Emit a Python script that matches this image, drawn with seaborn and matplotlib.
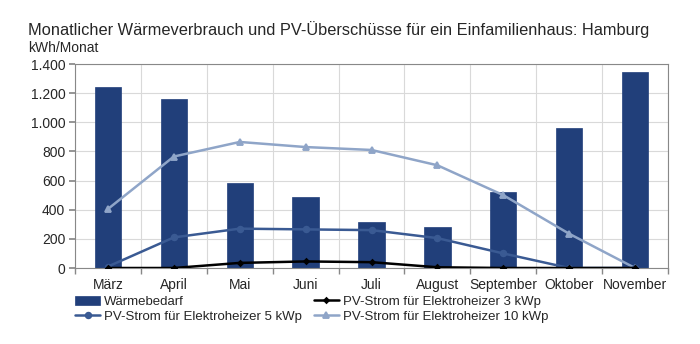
import matplotlib
matplotlib.use("Agg")
import matplotlib.pyplot as plt
import seaborn as sns
import numpy as np
from matplotlib.ticker import FixedLocator, FuncFormatter

months = ["März", "April", "Mai", "Juni", "Juli", "August", "September", "Oktober", "November"]
waerme = [1240, 1160, 580, 485, 315, 280, 520, 960, 1345]
pv3 = [0, 0, 35, 45, 40, 5, 0, 0, 0]
pv5 = [10, 210, 270, 265, 260, 205, 100, 0, 0]
pv10 = [405, 765, 865, 830, 810, 705, 500, 235, 0]
yticks = [0, 200, 400, 600, 800, 1000, 1200, 1400]

sns.set_theme(style="white")
plt.rcParams['font.family'] = ['Liberation Sans', 'DejaVu Sans']

fig = plt.figure(figsize=(7, 3.44), dpi=100)
ax = fig.add_axes([75/700, 1-268/344, (668-75)/700, (268-64)/344])

bar_c = "#213F7A"
c5 = "#3A5A93"
c10 = "#8FA5C8"

sns.barplot(x=months, y=waerme, color=bar_c, width=0.4, ax=ax, saturation=1,
            edgecolor=bar_c, linewidth=0.5, label="Wärmebedarf", zorder=2)
sns.pointplot(x=months, y=pv10, color=c10, marker="^", markersize=4, linewidth=1.8,
              ax=ax, label="PV-Strom für Elektroheizer 10 kWp", zorder=3)
sns.pointplot(x=months, y=pv5, color=c5, marker="o", markersize=4, linewidth=1.8,
              ax=ax, label="PV-Strom für Elektroheizer 5 kWp", zorder=4)
sns.pointplot(x=months, y=pv3, color="black", marker="D", markersize=2.5, linewidth=1.8,
              ax=ax, label="PV-Strom für Elektroheizer 3 kWp", zorder=5)

n = len(months)
ax.set_xlim(-0.5, n - 0.5)
ax.set_ylim(0, 1400)
ax.set_yticks(yticks)
ax.yaxis.set_major_formatter(FuncFormatter(lambda v, p: f"{int(v):,}".replace(",", ".")))
ax.xaxis.set_minor_locator(FixedLocator([i - 0.5 for i in range(n + 1)]))
ax.grid(True, which="minor", axis="x", color="#d9d9d9", linewidth=0.8, zorder=0)
ax.grid(True, which="major", axis="y", color="#d9d9d9", linewidth=0.8, zorder=0)
ax.set_axisbelow(True)
ax.tick_params(axis="x", which="major", length=0, labelsize=10, pad=7)
ax.tick_params(axis="x", which="minor", length=4, color="#888888", direction="out", bottom=True)
ax.tick_params(axis="y", length=4, color="#888888", direction="out", left=True, labelsize=10, pad=3)
for s in ax.spines.values():
    s.set_color("#888888")
    s.set_linewidth(0.8)
ax.set_xlabel("")
ax.set_ylabel("")

fig.text(28/700, 1-30/344, "Monatlicher Wärmeverbrauch und PV-Überschüsse für ein Einfamilienhaus: Hamburg",
         fontsize=11.8, va="center", ha="left")
fig.text(28/700, 1-48/344, "kWh/Monat", fontsize=10, va="center", ha="left")

h, l = ax.get_legend_handles_labels()
d = dict(zip(l, h))
order = ["Wärmebedarf", "PV-Strom für Elektroheizer 5 kWp",
         "PV-Strom für Elektroheizer 3 kWp", "PV-Strom für Elektroheizer 10 kWp"]
ax.legend([d[k] for k in order], order, ncol=2, loc="upper left",
          bbox_to_anchor=(0.0, -0.135), frameon=False, fontsize=9.5,
          handlelength=1.9, handletextpad=0.3, columnspacing=0.9,
          labelspacing=0.2, borderaxespad=0, borderpad=0)

fig.savefig("out.png", dpi=100)
